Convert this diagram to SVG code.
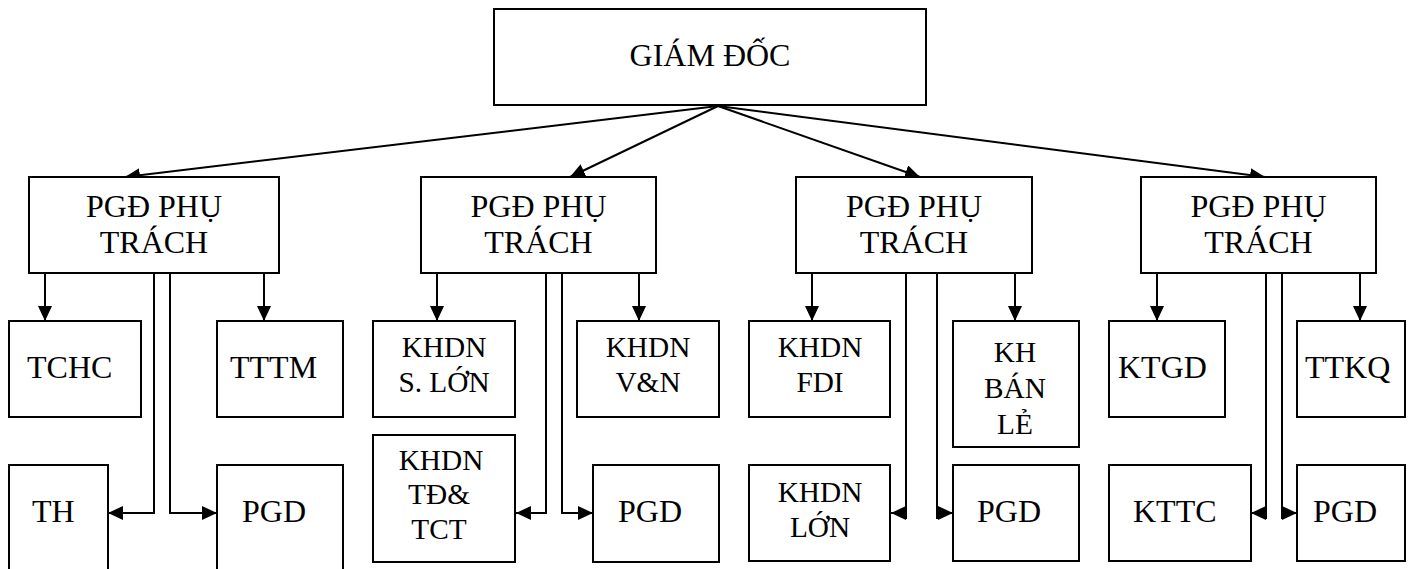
<svg xmlns="http://www.w3.org/2000/svg" width="1413" height="569" viewBox="0 0 1413 569">
<style>
rect{fill:#fff;stroke:#000;stroke-width:2}
text{font-family:"Liberation Serif","Times New Roman",serif;font-size:32px;fill:#000}
.c{text-anchor:middle}
.s{font-size:29.3px}
.ln{fill:none;stroke:#000;stroke-width:2}
</style>
<defs>
<marker id="ah" markerUnits="userSpaceOnUse" markerWidth="16" markerHeight="14" refX="15" refY="7" orient="auto">
<path d="M0,0 L15,7 L0,14 z" fill="#000"/>
</marker>
</defs>
<rect width="1413" height="569" style="stroke:none"/>
<g id="connectors">
<path class="ln" marker-end="url(#ah)" d="M718,106 L125,177"/>
<path class="ln" marker-end="url(#ah)" d="M718,106 L570,177"/>
<path class="ln" marker-end="url(#ah)" d="M718,106 L920,177"/>
<path class="ln" marker-end="url(#ah)" d="M718,106 L1265,177"/>
<path class="ln" marker-end="url(#ah)" d="M45,273 L45,321"/>
<path class="ln" marker-end="url(#ah)" d="M264,273 L264,321"/>
<path class="ln" marker-end="url(#ah)" d="M437,273 L437,321"/>
<path class="ln" marker-end="url(#ah)" d="M639,273 L639,321"/>
<path class="ln" marker-end="url(#ah)" d="M812,273 L812,321"/>
<path class="ln" marker-end="url(#ah)" d="M1015,273 L1015,321"/>
<path class="ln" marker-end="url(#ah)" d="M1157,273 L1157,321"/>
<path class="ln" marker-end="url(#ah)" d="M1360,273 L1360,321"/>
<path class="ln" marker-end="url(#ah)" d="M154,273 L154,513 L108,513"/>
<path class="ln" marker-end="url(#ah)" d="M170,273 L170,513 L217,513"/>
<path class="ln" marker-end="url(#ah)" d="M546,273 L546,513 L516,513"/>
<path class="ln" marker-end="url(#ah)" d="M562,273 L562,513 L593,513"/>
<path class="ln" d="M906,273 L906,519"/>
<path class="ln" marker-end="url(#ah)" d="M906,513 L891,513"/>
<path class="ln" d="M937,273 L937,519"/>
<path class="ln" marker-end="url(#ah)" d="M937,513 L953,513"/>
<path class="ln" d="M1266,273 L1266,519"/>
<path class="ln" marker-end="url(#ah)" d="M1266,513 L1251,513"/>
<path class="ln" d="M1282,273 L1282,519"/>
<path class="ln" marker-end="url(#ah)" d="M1282,513 L1297,513"/>
</g>
<g id="giam-doc"><rect x="494" y="9" width="432" height="96"/><text class="c" x="710" y="66">GIÁM ĐỐC</text></g>
<g id="pgd1"><rect x="29" y="177" width="250" height="96"/><text class="c" x="154" y="217">PGĐ PHỤ</text><text class="c" x="154" y="253">TRÁCH</text></g>
<g id="pgd2"><rect x="421" y="177" width="235" height="96"/><text class="c" x="538.5" y="217">PGĐ PHỤ</text><text class="c" x="538.5" y="253">TRÁCH</text></g>
<g id="pgd3"><rect x="796" y="177" width="236" height="96"/><text class="c" x="914" y="217">PGĐ PHỤ</text><text class="c" x="914" y="253">TRÁCH</text></g>
<g id="pgd4"><rect x="1141" y="177" width="235" height="96"/><text class="c" x="1258.5" y="217">PGĐ PHỤ</text><text class="c" x="1258.5" y="253">TRÁCH</text></g>
<g id="tchc"><rect x="9" y="321" width="132" height="96"/><text x="27" y="378">TCHC</text></g>
<g id="tttm"><rect x="217" y="321" width="126" height="96"/><text x="230" y="378">TTTM</text></g>
<g id="th"><rect x="9" y="465" width="99" height="120"/><text x="32" y="522">TH</text></g>
<g id="pgd-c1"><rect x="217" y="465" width="126" height="120"/><text x="242" y="522">PGD</text></g>
<g id="khdn-slon"><rect x="373" y="321" width="142" height="96"/><text class="c s" x="444" y="357">KHDN</text><text class="c s" x="444" y="392">S. LỚN</text></g>
<g id="khdn-vn"><rect x="577" y="321" width="142" height="96"/><text class="c s" x="648" y="357">KHDN</text><text class="c s" x="648" y="392">V&amp;N</text></g>
<g id="khdn-tdtct"><rect x="373" y="435" width="142" height="127"/><text class="c s" x="441" y="470">KHDN</text><text class="c s" x="439" y="504">TĐ&amp;</text><text class="c s" x="439" y="539">TCT</text></g>
<g id="pgd-c2"><rect x="593" y="465" width="126" height="97"/><text x="618" y="522">PGD</text></g>
<g id="khdn-fdi"><rect x="749" y="321" width="141" height="96"/><text class="c s" x="820" y="357">KHDN</text><text class="c s" x="820" y="392">FDI</text></g>
<g id="kh-banle"><rect x="953" y="321" width="126" height="126"/><text class="c s" x="1015" y="362">KH</text><text class="c s" x="1015" y="398">BÁN</text><text class="c s" x="1015" y="434">LẺ</text></g>
<g id="khdn-lon"><rect x="749" y="465" width="141" height="96"/><text class="c s" x="820" y="502">KHDN</text><text class="c s" x="820" y="537">LỚN</text></g>
<g id="pgd-c3"><rect x="953" y="465" width="126" height="96"/><text x="977" y="522">PGD</text></g>
<g id="ktgd"><rect x="1109" y="321" width="116" height="96"/><text x="1118" y="378">KTGD</text></g>
<g id="ttkq"><rect x="1297" y="321" width="108" height="96"/><text x="1305" y="378">TTKQ</text></g>
<g id="kttc"><rect x="1109" y="465" width="142" height="96"/><text x="1133" y="522">KTTC</text></g>
<g id="pgd-c4"><rect x="1297" y="465" width="108" height="96"/><text x="1313" y="522">PGD</text></g>
</svg>
